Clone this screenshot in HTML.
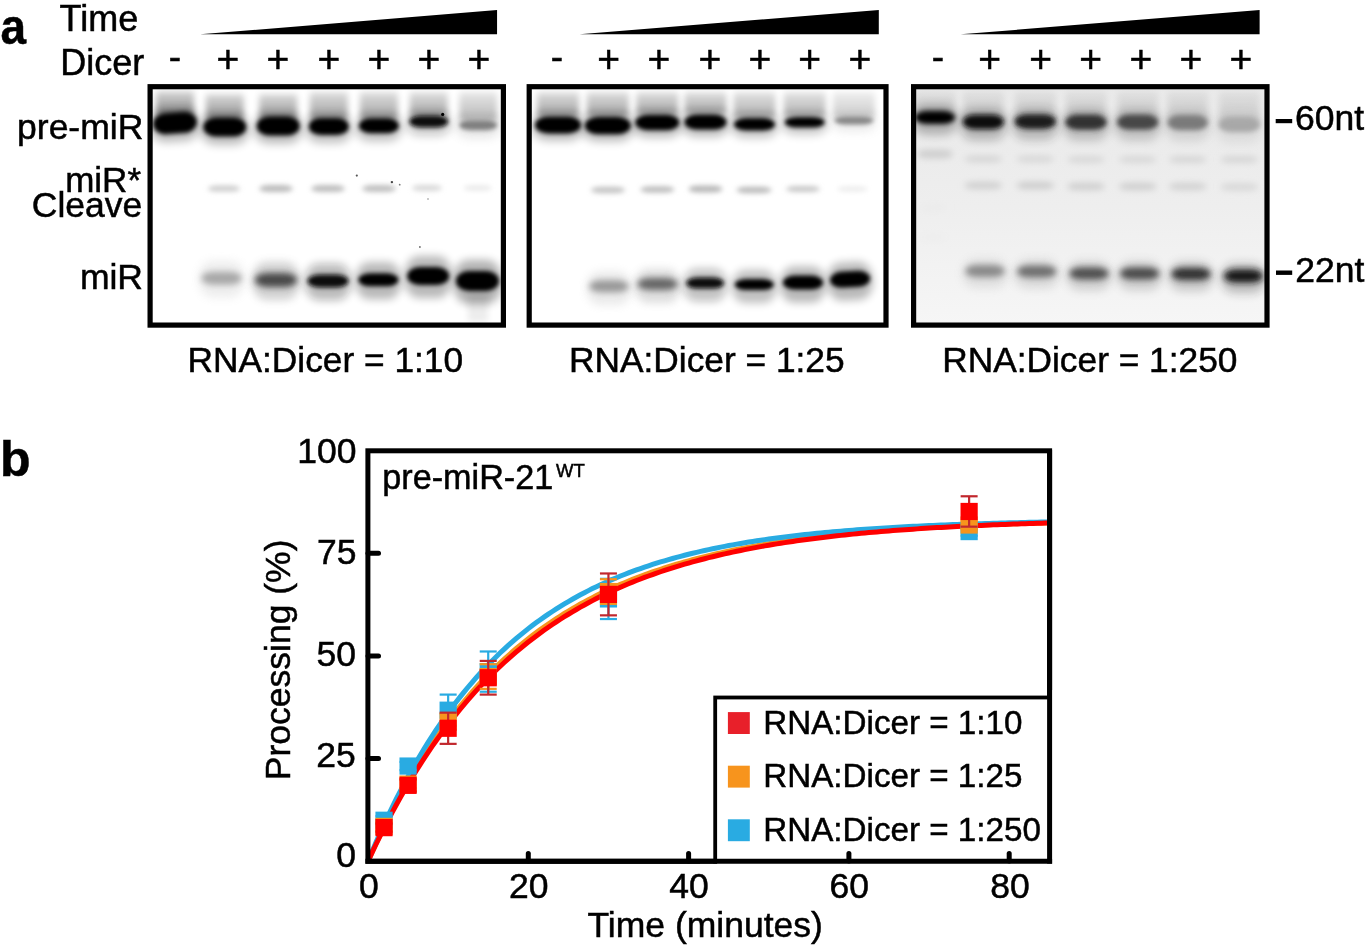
<!DOCTYPE html>
<html><head><meta charset="utf-8"><title>Dicer processing</title>
<style>html,body{margin:0;padding:0;background:#fff;width:1365px;height:945px;overflow:hidden}svg{display:block}</style></head>
<body>
<svg width="1365" height="945" viewBox="0 0 1365 945" font-family="'Liberation Sans', Arial, Helvetica, sans-serif" fill="#000">
<style>text{stroke:#000;stroke-width:0.5px}</style>
<defs>
<clipPath id="clip150"><rect x="150.1" y="86.7" width="353.29999999999995" height="238.40000000000003"/></clipPath>
<clipPath id="clip529"><rect x="529.2" y="86.7" width="356.79999999999995" height="238.40000000000003"/></clipPath>
<clipPath id="clip913"><rect x="913.6" y="86.7" width="353.4" height="238.40000000000003"/></clipPath>
<clipPath id="plotclip"><rect x="370" y="453" width="677" height="406"/></clipPath>
<filter id="b3_0" x="-50%" y="-100%" width="200%" height="300%"><feGaussianBlur stdDeviation="3"/></filter>
<filter id="b5_0" x="-50%" y="-100%" width="200%" height="300%"><feGaussianBlur stdDeviation="5"/></filter>
<filter id="b2_3" x="-50%" y="-100%" width="200%" height="300%"><feGaussianBlur stdDeviation="2.3"/></filter>
<filter id="b2_4" x="-50%" y="-100%" width="200%" height="300%"><feGaussianBlur stdDeviation="2.4"/></filter>
<filter id="b4_0" x="-50%" y="-100%" width="200%" height="300%"><feGaussianBlur stdDeviation="4"/></filter>
<filter id="b2_2" x="-50%" y="-100%" width="200%" height="300%"><feGaussianBlur stdDeviation="2.2"/></filter>
<filter id="b2_8" x="-50%" y="-100%" width="200%" height="300%"><feGaussianBlur stdDeviation="2.8"/></filter>
<filter id="b3_2" x="-50%" y="-100%" width="200%" height="300%"><feGaussianBlur stdDeviation="3.2"/></filter>
<filter id="b3_5" x="-50%" y="-100%" width="200%" height="300%"><feGaussianBlur stdDeviation="3.5"/></filter>
<linearGradient id="smear" x1="0" y1="0" x2="0" y2="1"><stop offset="0" stop-color="#000" stop-opacity="0.2"/><stop offset="0.35" stop-color="#000" stop-opacity="0.36"/><stop offset="0.7" stop-color="#000" stop-opacity="0.5"/><stop offset="1" stop-color="#000" stop-opacity="0.75"/></linearGradient>
<linearGradient id="gel3bg" x1="0" y1="0" x2="0" y2="1"><stop offset="0" stop-color="#e9e9e9"/><stop offset="0.5" stop-color="#eeeeee"/><stop offset="1" stop-color="#f6f6f6"/></linearGradient>
</defs>
<g clip-path="url(#clip150)">
<rect x="156.00" y="91" width="38" height="25" fill="url(#smear)" opacity="0.75" filter="url(#b3_0)"/>
<rect x="205.80" y="94" width="38" height="26" fill="url(#smear)" opacity="0.7" filter="url(#b3_0)"/>
<rect x="259.20" y="94" width="38" height="26" fill="url(#smear)" opacity="0.68" filter="url(#b3_0)"/>
<rect x="309.80" y="92" width="38" height="28" fill="url(#smear)" opacity="0.62" filter="url(#b3_0)"/>
<rect x="359.90" y="92" width="38" height="28" fill="url(#smear)" opacity="0.6" filter="url(#b3_0)"/>
<rect x="409.70" y="92" width="38" height="25" fill="url(#smear)" opacity="0.58" filter="url(#b3_0)"/>
<rect x="459.20" y="92" width="38" height="29" fill="url(#smear)" opacity="0.45" filter="url(#b3_0)"/>
<rect x="150.00" y="109.50" width="50.00" height="32.00" rx="15.00" ry="16.00" fill="#000" opacity="0.275" filter="url(#b5_0)" transform="rotate(-4 175 125.5)"/>
<rect x="153.00" y="112.50" width="44.00" height="21.00" rx="13.20" ry="10.50" fill="#000" opacity="1" filter="url(#b2_3)" transform="rotate(-4 175 123)"/>
<rect x="200.30" y="114.50" width="49.00" height="30.00" rx="14.70" ry="15.00" fill="#000" opacity="0.275" filter="url(#b5_0)"/>
<rect x="203.30" y="117.50" width="43.00" height="19.00" rx="12.90" ry="9.50" fill="#000" opacity="1" filter="url(#b2_3)"/>
<rect x="253.70" y="113.50" width="49.00" height="30.00" rx="14.70" ry="15.00" fill="#000" opacity="0.275" filter="url(#b5_0)"/>
<rect x="256.70" y="116.50" width="43.00" height="19.00" rx="12.90" ry="9.50" fill="#000" opacity="1" filter="url(#b2_3)"/>
<rect x="305.80" y="115.00" width="46.00" height="28.00" rx="13.80" ry="14.00" fill="#000" opacity="0.24750000000000003" filter="url(#b5_0)"/>
<rect x="308.80" y="118.00" width="40.00" height="17.00" rx="12.00" ry="8.50" fill="#000" opacity="1" filter="url(#b2_3)"/>
<rect x="355.90" y="115.30" width="46.00" height="26.00" rx="13.80" ry="13.00" fill="#000" opacity="0.24750000000000003" filter="url(#b5_0)"/>
<rect x="358.90" y="118.30" width="40.00" height="15.00" rx="12.00" ry="7.50" fill="#000" opacity="1" filter="url(#b2_3)"/>
<rect x="406.20" y="112.50" width="45.00" height="23.00" rx="13.50" ry="11.50" fill="#0a0a0a" opacity="0.22000000000000003" filter="url(#b5_0)"/>
<rect x="409.20" y="115.50" width="39.00" height="12.00" rx="11.70" ry="6.00" fill="#0a0a0a" opacity="1" filter="url(#b2_3)"/>
<rect x="456.20" y="117.20" width="44.00" height="21.00" rx="13.20" ry="10.50" fill="#808080" opacity="0.1925" filter="url(#b5_0)"/>
<rect x="459.20" y="120.20" width="38.00" height="10.00" rx="11.40" ry="5.00" fill="#808080" opacity="1" filter="url(#b2_3)"/>
<rect x="208.00" y="185.60" width="32.00" height="6.00" rx="9.60" ry="3.00" fill="#cdcdcd" opacity="1" filter="url(#b2_4)"/>
<rect x="259.00" y="185.10" width="34.00" height="7.00" rx="10.20" ry="3.50" fill="#bcbcbc" opacity="1" filter="url(#b2_4)"/>
<rect x="311.00" y="185.10" width="34.00" height="7.00" rx="10.20" ry="3.50" fill="#bebebe" opacity="1" filter="url(#b2_4)"/>
<rect x="362.00" y="185.10" width="34.00" height="7.00" rx="10.20" ry="3.50" fill="#c0c0c0" opacity="1" filter="url(#b2_4)"/>
<rect x="412.00" y="185.00" width="30.00" height="6.00" rx="9.00" ry="3.00" fill="#d8d8d8" opacity="1" filter="url(#b2_4)"/>
<rect x="463.70" y="185.50" width="28.00" height="5.00" rx="8.40" ry="2.50" fill="#e8e8e8" opacity="1" filter="url(#b2_4)"/>
<rect x="198.60" y="260.70" width="46.00" height="37.00" rx="13.80" ry="18.50" fill="#a8a8a8" opacity="0.1925" filter="url(#b4_0)"/>
<rect x="201.60" y="271.70" width="40.00" height="13.00" rx="12.00" ry="6.50" fill="#a8a8a8" opacity="1" filter="url(#b3_0)"/>
<rect x="252.00" y="262.00" width="48.00" height="38.00" rx="14.40" ry="19.00" fill="#4a4a4a" opacity="0.24750000000000003" filter="url(#b4_0)"/>
<rect x="255.00" y="273.00" width="42.00" height="14.00" rx="12.60" ry="7.00" fill="#4a4a4a" opacity="1" filter="url(#b3_0)"/>
<rect x="304.50" y="263.50" width="47.00" height="37.00" rx="14.10" ry="18.50" fill="#0c0c0c" opacity="0.275" filter="url(#b4_0)"/>
<rect x="307.50" y="274.50" width="41.00" height="13.00" rx="12.30" ry="6.50" fill="#0c0c0c" opacity="1" filter="url(#b2_2)"/>
<rect x="355.40" y="262.30" width="46.00" height="37.00" rx="13.80" ry="18.50" fill="#000" opacity="0.275" filter="url(#b4_0)"/>
<rect x="358.40" y="273.30" width="40.00" height="13.00" rx="12.00" ry="6.50" fill="#000" opacity="1" filter="url(#b2_2)"/>
<rect x="404.20" y="256.00" width="48.00" height="42.00" rx="14.40" ry="21.00" fill="#000" opacity="0.275" filter="url(#b4_0)"/>
<rect x="407.20" y="267.00" width="42.00" height="18.00" rx="12.60" ry="9.00" fill="#000" opacity="1" filter="url(#b2_2)"/>
<rect x="453.00" y="260.00" width="49.00" height="44.00" rx="14.70" ry="22.00" fill="#000" opacity="0.30250000000000005" filter="url(#b4_0)"/>
<rect x="456.00" y="271.00" width="43.00" height="20.00" rx="12.90" ry="10.00" fill="#000" opacity="1" filter="url(#b2_2)"/>
<circle cx="442.7" cy="114.4" r="1.6" fill="#000"/>
<circle cx="356.8" cy="175.6" r="1.1" fill="#555"/>
<circle cx="391.9" cy="182.1" r="1.2" fill="#444"/>
<circle cx="399.7" cy="184.7" r="0.9" fill="#777"/>
<circle cx="419.9" cy="247" r="1.0" fill="#777"/>
<circle cx="428" cy="199" r="0.8" fill="#888"/>
<rect x="468" y="292" width="20" height="30" fill="#000" opacity="0.07" filter="url(#b3_0)"/>
</g>
<rect x="150.1" y="86.7" width="353.29999999999995" height="238.40000000000003" fill="none" stroke="#000" stroke-width="5.2"/>
<g clip-path="url(#clip529)">
<rect x="537.00" y="92" width="42" height="25" fill="url(#smear)" opacity="0.6" filter="url(#b3_0)"/>
<rect x="586.80" y="92" width="42" height="25" fill="url(#smear)" opacity="0.6" filter="url(#b3_0)"/>
<rect x="636.30" y="92" width="42" height="23" fill="url(#smear)" opacity="0.58" filter="url(#b3_0)"/>
<rect x="684.50" y="92" width="42" height="22" fill="url(#smear)" opacity="0.56" filter="url(#b3_0)"/>
<rect x="733.50" y="92" width="42" height="26" fill="url(#smear)" opacity="0.52" filter="url(#b3_0)"/>
<rect x="783.70" y="92" width="42" height="25" fill="url(#smear)" opacity="0.5" filter="url(#b3_0)"/>
<rect x="832.90" y="92" width="42" height="26" fill="url(#smear)" opacity="0.32" filter="url(#b3_0)"/>
<rect x="532.00" y="113.50" width="52.00" height="27.00" rx="15.60" ry="13.50" fill="#000" opacity="0.275" filter="url(#b5_0)"/>
<rect x="535.00" y="116.50" width="46.00" height="17.00" rx="13.80" ry="8.50" fill="#000" opacity="1" filter="url(#b2_3)"/>
<rect x="581.80" y="113.85" width="52.00" height="27.50" rx="15.60" ry="13.75" fill="#000" opacity="0.275" filter="url(#b5_0)"/>
<rect x="584.80" y="116.85" width="46.00" height="17.50" rx="13.80" ry="8.75" fill="#000" opacity="1" filter="url(#b2_3)"/>
<rect x="632.30" y="111.85" width="50.00" height="25.50" rx="15.00" ry="12.75" fill="#000" opacity="0.275" filter="url(#b5_0)"/>
<rect x="635.30" y="114.85" width="44.00" height="15.50" rx="13.20" ry="7.75" fill="#000" opacity="1" filter="url(#b2_3)"/>
<rect x="681.50" y="111.50" width="48.00" height="25.00" rx="14.40" ry="12.50" fill="#000" opacity="0.275" filter="url(#b5_0)"/>
<rect x="684.50" y="114.50" width="42.00" height="15.00" rx="12.60" ry="7.50" fill="#000" opacity="1" filter="url(#b2_3)"/>
<rect x="731.00" y="115.05" width="47.00" height="22.50" rx="14.10" ry="11.25" fill="#000" opacity="0.24750000000000003" filter="url(#b5_0)"/>
<rect x="734.00" y="118.05" width="41.00" height="12.50" rx="12.30" ry="6.25" fill="#000" opacity="1" filter="url(#b2_3)"/>
<rect x="781.70" y="113.95" width="46.00" height="20.50" rx="13.80" ry="10.25" fill="#050505" opacity="0.22000000000000003" filter="url(#b5_0)"/>
<rect x="784.70" y="116.95" width="40.00" height="10.50" rx="12.00" ry="5.25" fill="#050505" opacity="1" filter="url(#b2_3)"/>
<rect x="831.40" y="113.50" width="45.00" height="18.00" rx="13.50" ry="9.00" fill="#888" opacity="0.165" filter="url(#b5_0)"/>
<rect x="834.40" y="116.50" width="39.00" height="8.00" rx="11.70" ry="4.00" fill="#888" opacity="1" filter="url(#b2_3)"/>
<rect x="591.00" y="186.75" width="34.00" height="6.50" rx="10.20" ry="3.25" fill="#c4c4c4" opacity="1" filter="url(#b2_4)"/>
<rect x="640.40" y="186.25" width="34.00" height="6.50" rx="10.20" ry="3.25" fill="#bebebe" opacity="1" filter="url(#b2_4)"/>
<rect x="688.50" y="185.50" width="34.00" height="7.00" rx="10.20" ry="3.50" fill="#b8b8b8" opacity="1" filter="url(#b2_4)"/>
<rect x="736.50" y="186.75" width="35.00" height="6.50" rx="10.50" ry="3.25" fill="#bcbcbc" opacity="1" filter="url(#b2_4)"/>
<rect x="786.00" y="186.00" width="34.00" height="6.00" rx="10.20" ry="3.00" fill="#c8c8c8" opacity="1" filter="url(#b2_4)"/>
<rect x="837.50" y="186.50" width="30.00" height="5.00" rx="9.00" ry="2.50" fill="#ebebeb" opacity="1" filter="url(#b2_4)"/>
<rect x="586.50" y="271.30" width="45.00" height="34.00" rx="13.50" ry="17.00" fill="#999" opacity="0.1925" filter="url(#b4_0)"/>
<rect x="589.50" y="280.30" width="39.00" height="12.00" rx="11.70" ry="6.00" fill="#999" opacity="1" filter="url(#b3_0)"/>
<rect x="634.60" y="269.00" width="46.00" height="34.00" rx="13.80" ry="17.00" fill="#666" opacity="0.22000000000000003" filter="url(#b4_0)"/>
<rect x="637.60" y="278.00" width="40.00" height="12.00" rx="12.00" ry="6.00" fill="#666" opacity="1" filter="url(#b3_0)"/>
<rect x="683.10" y="268.60" width="44.00" height="33.00" rx="13.20" ry="16.50" fill="#080808" opacity="0.24750000000000003" filter="url(#b4_0)"/>
<rect x="686.10" y="277.60" width="38.00" height="11.00" rx="11.40" ry="5.50" fill="#080808" opacity="1" filter="url(#b2_2)"/>
<rect x="731.80" y="270.10" width="45.00" height="33.00" rx="13.50" ry="16.50" fill="#000" opacity="0.24750000000000003" filter="url(#b4_0)"/>
<rect x="734.80" y="279.10" width="39.00" height="11.00" rx="11.70" ry="5.50" fill="#000" opacity="1" filter="url(#b2_2)"/>
<rect x="780.00" y="266.60" width="46.00" height="36.00" rx="13.80" ry="18.00" fill="#000" opacity="0.275" filter="url(#b4_0)"/>
<rect x="783.00" y="275.60" width="40.00" height="14.00" rx="12.00" ry="7.00" fill="#000" opacity="1" filter="url(#b2_2)"/>
<rect x="827.10" y="262.30" width="46.00" height="38.00" rx="13.80" ry="19.00" fill="#000" opacity="0.275" filter="url(#b4_0)" transform="rotate(-3 850.1 281.3)"/>
<rect x="830.10" y="271.30" width="40.00" height="16.00" rx="12.00" ry="8.00" fill="#000" opacity="1" filter="url(#b2_2)" transform="rotate(-3 850.1 279.3)"/>
</g>
<rect x="529.2" y="86.7" width="356.79999999999995" height="238.40000000000003" fill="none" stroke="#000" stroke-width="5.2"/>
<g clip-path="url(#clip913)">
<rect x="913.6" y="86.7" width="353.4" height="238.40000000000003" fill="url(#gel3bg)"/>
<rect x="915.00" y="92" width="40" height="25.5" fill="url(#smear)" opacity="0.22" filter="url(#b3_0)"/>
<rect x="963.30" y="92" width="40" height="30" fill="url(#smear)" opacity="0.22" filter="url(#b3_0)"/>
<rect x="1015.30" y="92" width="40" height="29.700000000000003" fill="url(#smear)" opacity="0.22" filter="url(#b3_0)"/>
<rect x="1066.00" y="92" width="40" height="30.299999999999997" fill="url(#smear)" opacity="0.22" filter="url(#b3_0)"/>
<rect x="1117.70" y="92" width="40" height="30.299999999999997" fill="url(#smear)" opacity="0.22" filter="url(#b3_0)"/>
<rect x="1167.70" y="92" width="40" height="30.700000000000003" fill="url(#smear)" opacity="0.22" filter="url(#b3_0)"/>
<rect x="1219.30" y="92" width="40" height="32.7" fill="url(#smear)" opacity="0.22" filter="url(#b3_0)"/>
<rect x="912.00" y="105.00" width="46.00" height="30.00" rx="13.80" ry="15.00" fill="#000" opacity="0.24750000000000003" filter="url(#b5_0)"/>
<rect x="915.00" y="111.00" width="40.00" height="13.00" rx="12.00" ry="6.50" fill="#000" opacity="1" filter="url(#b2_8)"/>
<rect x="959.80" y="108.75" width="47.00" height="31.50" rx="14.10" ry="15.75" fill="#111" opacity="0.24750000000000003" filter="url(#b5_0)"/>
<rect x="962.80" y="114.75" width="41.00" height="14.50" rx="12.30" ry="7.25" fill="#111" opacity="1" filter="url(#b2_8)"/>
<rect x="1011.80" y="108.45" width="47.00" height="31.50" rx="14.10" ry="15.75" fill="#1c1c1c" opacity="0.24750000000000003" filter="url(#b5_0)"/>
<rect x="1014.80" y="114.45" width="41.00" height="14.50" rx="12.30" ry="7.25" fill="#1c1c1c" opacity="1" filter="url(#b2_8)"/>
<rect x="1062.50" y="108.80" width="47.00" height="32.00" rx="14.10" ry="16.00" fill="#333" opacity="0.24750000000000003" filter="url(#b5_0)"/>
<rect x="1065.50" y="114.80" width="41.00" height="15.00" rx="12.30" ry="7.50" fill="#333" opacity="1" filter="url(#b2_8)"/>
<rect x="1114.20" y="108.80" width="47.00" height="32.00" rx="14.10" ry="16.00" fill="#474747" opacity="0.24750000000000003" filter="url(#b5_0)"/>
<rect x="1117.20" y="114.80" width="41.00" height="15.00" rx="12.30" ry="7.50" fill="#474747" opacity="1" filter="url(#b2_8)"/>
<rect x="1164.70" y="109.20" width="46.00" height="32.00" rx="13.80" ry="16.00" fill="#7a7a7a" opacity="0.22000000000000003" filter="url(#b5_0)"/>
<rect x="1167.70" y="115.20" width="40.00" height="15.00" rx="12.00" ry="7.50" fill="#7a7a7a" opacity="1" filter="url(#b2_8)"/>
<rect x="1215.80" y="111.20" width="47.00" height="32.00" rx="14.10" ry="16.00" fill="#a8a8a8" opacity="0.22000000000000003" filter="url(#b5_0)"/>
<rect x="1218.80" y="117.20" width="41.00" height="15.00" rx="12.30" ry="7.50" fill="#a8a8a8" opacity="1" filter="url(#b2_8)"/>
<rect x="917.00" y="149.50" width="36.00" height="9.00" rx="10.80" ry="4.50" fill="#cfcfcf" opacity="1" filter="url(#b3_2)"/>
<rect x="964.30" y="155.50" width="38.00" height="7.00" rx="11.40" ry="3.50" fill="#d6d6d6" opacity="1" filter="url(#b3_2)"/>
<rect x="1016.30" y="155.50" width="38.00" height="7.00" rx="11.40" ry="3.50" fill="#d8d8d8" opacity="1" filter="url(#b3_2)"/>
<rect x="1067.00" y="156.00" width="38.00" height="7.00" rx="11.40" ry="3.50" fill="#d8d8d8" opacity="1" filter="url(#b3_2)"/>
<rect x="1118.70" y="156.00" width="38.00" height="7.00" rx="11.40" ry="3.50" fill="#d8d8d8" opacity="1" filter="url(#b3_2)"/>
<rect x="1168.70" y="156.00" width="38.00" height="7.00" rx="11.40" ry="3.50" fill="#d6d6d6" opacity="1" filter="url(#b3_2)"/>
<rect x="1220.30" y="156.00" width="38.00" height="7.00" rx="11.40" ry="3.50" fill="#d6d6d6" opacity="1" filter="url(#b3_2)"/>
<rect x="964.30" y="181.75" width="38.00" height="7.50" rx="11.40" ry="3.75" fill="#d0d0d0" opacity="1" filter="url(#b3_2)"/>
<rect x="1016.30" y="181.75" width="38.00" height="7.50" rx="11.40" ry="3.75" fill="#cdcdcd" opacity="1" filter="url(#b3_2)"/>
<rect x="1067.00" y="182.75" width="38.00" height="7.50" rx="11.40" ry="3.75" fill="#cfcfcf" opacity="1" filter="url(#b3_2)"/>
<rect x="1118.70" y="182.75" width="38.00" height="7.50" rx="11.40" ry="3.75" fill="#cfcfcf" opacity="1" filter="url(#b3_2)"/>
<rect x="1168.70" y="182.75" width="38.00" height="7.50" rx="11.40" ry="3.75" fill="#d2d2d2" opacity="1" filter="url(#b3_2)"/>
<rect x="1220.30" y="183.25" width="38.00" height="7.50" rx="11.40" ry="3.75" fill="#d8d8d8" opacity="1" filter="url(#b3_2)"/>
<rect x="919.00" y="204.00" width="28.00" height="7.00" rx="8.40" ry="3.50" fill="#ebebeb" opacity="1" filter="url(#b3_5)"/>
<rect x="919.00" y="233.50" width="28.00" height="7.00" rx="8.40" ry="3.50" fill="#ededed" opacity="1" filter="url(#b3_5)"/>
<rect x="962.50" y="259.00" width="45.00" height="29.00" rx="13.50" ry="14.50" fill="#8a8a8a" opacity="0.1925" filter="url(#b5_0)"/>
<rect x="965.50" y="265.00" width="39.00" height="12.00" rx="11.70" ry="6.00" fill="#8a8a8a" opacity="1" filter="url(#b3_0)"/>
<rect x="1014.20" y="259.50" width="45.00" height="29.00" rx="13.50" ry="14.50" fill="#707070" opacity="0.1925" filter="url(#b5_0)"/>
<rect x="1017.20" y="265.50" width="39.00" height="12.00" rx="11.70" ry="6.00" fill="#707070" opacity="1" filter="url(#b3_0)"/>
<rect x="1066.50" y="261.50" width="45.00" height="29.00" rx="13.50" ry="14.50" fill="#505050" opacity="0.22000000000000003" filter="url(#b5_0)"/>
<rect x="1069.50" y="267.50" width="39.00" height="12.00" rx="11.70" ry="6.00" fill="#505050" opacity="1" filter="url(#b3_0)"/>
<rect x="1117.10" y="261.50" width="45.00" height="29.00" rx="13.50" ry="14.50" fill="#4c4c4c" opacity="0.22000000000000003" filter="url(#b5_0)"/>
<rect x="1120.10" y="267.50" width="39.00" height="12.00" rx="11.70" ry="6.00" fill="#4c4c4c" opacity="1" filter="url(#b3_0)"/>
<rect x="1168.50" y="261.75" width="45.00" height="29.50" rx="13.50" ry="14.75" fill="#333" opacity="0.22000000000000003" filter="url(#b5_0)"/>
<rect x="1171.50" y="267.75" width="39.00" height="12.50" rx="11.70" ry="6.25" fill="#333" opacity="1" filter="url(#b3_0)"/>
<rect x="1221.00" y="263.50" width="45.00" height="30.00" rx="13.50" ry="15.00" fill="#151515" opacity="0.24750000000000003" filter="url(#b5_0)"/>
<rect x="1224.00" y="269.50" width="39.00" height="13.00" rx="11.70" ry="6.50" fill="#151515" opacity="1" filter="url(#b3_0)"/>
</g>
<rect x="913.6" y="86.7" width="353.4" height="238.40000000000003" fill="none" stroke="#000" stroke-width="5.2"/>
<polygon points="200.1,34.3 497.05,10 497.05,34.3" fill="#000"/>
<polygon points="579.6,34.3 878.8,10 878.8,34.3" fill="#000"/>
<polygon points="960.7,34.3 1259.6,10 1259.6,34.3" fill="#000"/>
<text x="0.6" y="43.5" font-size="50" font-weight="bold" text-anchor="start" transform="translate(0.6 0) scale(0.92 1) translate(-0.6 0)">a</text>
<text x="59.5" y="31" font-size="36" font-weight="normal" text-anchor="start" >Time</text>
<text x="60.3" y="74.7" font-size="36" font-weight="normal" text-anchor="start" >Dicer</text>
<text x="175" y="68.7" font-size="37" font-weight="normal" text-anchor="middle" >-</text>
<text x="227.8" y="72.4" font-size="39" font-weight="normal" text-anchor="middle" >+</text>
<text x="278" y="72.4" font-size="39" font-weight="normal" text-anchor="middle" >+</text>
<text x="328.9" y="72.4" font-size="39" font-weight="normal" text-anchor="middle" >+</text>
<text x="379" y="72.4" font-size="39" font-weight="normal" text-anchor="middle" >+</text>
<text x="428.9" y="72.4" font-size="39" font-weight="normal" text-anchor="middle" >+</text>
<text x="479" y="72.4" font-size="39" font-weight="normal" text-anchor="middle" >+</text>
<text x="557" y="68.7" font-size="37" font-weight="normal" text-anchor="middle" >-</text>
<text x="608.6" y="72.4" font-size="39" font-weight="normal" text-anchor="middle" >+</text>
<text x="658.8" y="72.4" font-size="39" font-weight="normal" text-anchor="middle" >+</text>
<text x="710" y="72.4" font-size="39" font-weight="normal" text-anchor="middle" >+</text>
<text x="760" y="72.4" font-size="39" font-weight="normal" text-anchor="middle" >+</text>
<text x="809.7" y="72.4" font-size="39" font-weight="normal" text-anchor="middle" >+</text>
<text x="859.8" y="72.4" font-size="39" font-weight="normal" text-anchor="middle" >+</text>
<text x="938" y="68.7" font-size="37" font-weight="normal" text-anchor="middle" >-</text>
<text x="989.7" y="72.4" font-size="39" font-weight="normal" text-anchor="middle" >+</text>
<text x="1040.6" y="72.4" font-size="39" font-weight="normal" text-anchor="middle" >+</text>
<text x="1090.7" y="72.4" font-size="39" font-weight="normal" text-anchor="middle" >+</text>
<text x="1140.9" y="72.4" font-size="39" font-weight="normal" text-anchor="middle" >+</text>
<text x="1191" y="72.4" font-size="39" font-weight="normal" text-anchor="middle" >+</text>
<text x="1241" y="72.4" font-size="39" font-weight="normal" text-anchor="middle" >+</text>
<text x="143.3" y="138.8" font-size="35.5" font-weight="normal" text-anchor="end" >pre-miR</text>
<text x="141" y="191.5" font-size="35" font-weight="normal" text-anchor="end" >miR*</text>
<text x="142.3" y="216.7" font-size="35.5" font-weight="normal" text-anchor="end" >Cleave</text>
<text x="143" y="288.9" font-size="35.5" font-weight="normal" text-anchor="end" >miR</text>
<text x="187.5" y="372.2" font-size="35.3" font-weight="normal" text-anchor="start" >RNA:Dicer = 1:10</text>
<text x="569" y="372.2" font-size="35.3" font-weight="normal" text-anchor="start" >RNA:Dicer = 1:25</text>
<text x="942.2" y="372.2" font-size="35.3" font-weight="normal" text-anchor="start" >RNA:Dicer = 1:250</text>
<rect x="1275.7" y="119" width="16.5" height="4.2" fill="#000"/>
<rect x="1276" y="270.5" width="16.2" height="4.4" fill="#000"/>
<text x="1295" y="129.5" font-size="35.5" font-weight="normal" text-anchor="start" >60nt</text>
<text x="1295.2" y="282" font-size="35.5" font-weight="normal" text-anchor="start" >22nt</text>
<text x="0" y="475.5" font-size="50" font-weight="bold" text-anchor="start" >b</text>
<g clip-path="url(#plotclip)">
<polyline points="368.00,861.30 372.01,852.43 376.01,843.79 380.02,835.37 384.03,827.17 388.04,819.18 392.05,811.40 396.05,803.82 400.06,796.44 404.07,789.24 408.07,782.24 412.08,775.42 416.09,768.77 420.10,762.29 424.11,755.99 428.11,749.84 432.12,743.86 436.13,738.03 440.13,732.35 444.14,726.82 448.15,721.43 452.16,716.18 456.17,711.07 460.17,706.09 464.18,701.24 468.19,696.52 472.19,691.91 476.20,687.43 480.21,683.06 484.22,678.81 488.23,674.66 492.23,670.63 496.24,666.69 500.25,662.86 504.25,659.13 508.26,655.50 512.27,651.96 516.28,648.51 520.29,645.15 524.29,641.88 528.30,638.69 532.31,635.59 536.32,632.56 540.32,629.62 544.33,626.75 548.34,623.95 552.35,621.23 556.35,618.58 560.36,615.99 564.37,613.48 568.38,611.03 572.38,608.64 576.39,606.31 580.40,604.05 584.40,601.84 588.41,599.69 592.42,597.60 596.43,595.56 600.43,593.57 604.44,591.63 608.45,589.75 612.46,587.91 616.47,586.12 620.47,584.38 624.48,582.68 628.49,581.03 632.50,579.42 636.50,577.85 640.51,576.32 644.52,574.83 648.53,573.38 652.53,571.97 656.54,570.59 660.55,569.25 664.56,567.95 668.56,566.67 672.57,565.44 676.58,564.23 680.59,563.05 684.59,561.91 688.60,560.79 692.61,559.71 696.62,558.65 700.62,557.62 704.63,556.61 708.64,555.64 712.64,554.68 716.65,553.75 720.66,552.85 724.67,551.97 728.67,551.11 732.68,550.28 736.69,549.46 740.70,548.67 744.71,547.90 748.71,547.15 752.72,546.41 756.73,545.70 760.74,545.00 764.74,544.33 768.75,543.67 772.76,543.02 776.77,542.40 780.77,541.79 784.78,541.19 788.79,540.61 792.80,540.05 796.80,539.50 800.81,538.97 804.82,538.45 808.83,537.94 812.83,537.44 816.84,536.96 820.85,536.49 824.86,536.04 828.86,535.59 832.87,535.16 836.88,534.74 840.88,534.32 844.89,533.92 848.90,533.53 852.91,533.15 856.91,532.78 860.92,532.42 864.93,532.07 868.94,531.73 872.95,531.40 876.95,531.07 880.96,530.75 884.97,530.45 888.98,530.15 892.98,529.85 896.99,529.57 901.00,529.29 905.00,529.02 909.01,528.76 913.02,528.50 917.03,528.25 921.04,528.01 925.04,527.77 929.05,527.54 933.06,527.32 937.07,527.10 941.07,526.88 945.08,526.68 949.09,526.47 953.10,526.28 957.10,526.08 961.11,525.90 965.12,525.71 969.12,525.54 973.13,525.36 977.14,525.19 981.15,525.03 985.16,524.87 989.16,524.71 993.17,524.56 997.18,524.42 1001.19,524.27 1005.19,524.13 1009.20,523.99 1013.21,523.86 1017.22,523.73 1021.22,523.61 1025.23,523.48 1029.24,523.36 1033.24,523.25 1037.25,523.13 1041.26,523.02 1045.27,522.91 1049.28,522.81" fill="none" stroke="#f7941d" stroke-width="5" stroke-linejoin="round"/>
<polyline points="368.00,861.30 372.01,851.69 376.01,842.35 380.02,833.27 384.03,824.45 388.04,815.87 392.05,807.54 396.05,799.44 400.06,791.57 404.07,783.92 408.07,776.48 412.08,769.25 416.09,762.23 420.10,755.40 424.11,748.77 428.11,742.32 432.12,736.05 436.13,729.96 440.13,724.04 444.14,718.29 448.15,712.70 452.16,707.26 456.17,701.98 460.17,696.85 464.18,691.86 468.19,687.01 472.19,682.29 476.20,677.71 480.21,673.26 484.22,668.93 488.23,664.73 492.23,660.64 496.24,656.67 500.25,652.81 504.25,649.06 508.26,645.41 512.27,641.87 516.28,638.42 520.29,635.07 524.29,631.82 528.30,628.66 532.31,625.58 536.32,622.60 540.32,619.69 544.33,616.87 548.34,614.13 552.35,611.46 556.35,608.87 560.36,606.36 564.37,603.91 568.38,601.53 572.38,599.22 576.39,596.97 580.40,594.79 584.40,592.67 588.41,590.61 592.42,588.60 596.43,586.65 600.43,584.76 604.44,582.92 608.45,581.13 612.46,579.39 616.47,577.70 620.47,576.06 624.48,574.47 628.49,572.92 632.50,571.41 636.50,569.94 640.51,568.52 644.52,567.14 648.53,565.79 652.53,564.48 656.54,563.21 660.55,561.98 664.56,560.78 668.56,559.61 672.57,558.48 676.58,557.38 680.59,556.31 684.59,555.27 688.60,554.25 692.61,553.27 696.62,552.32 700.62,551.39 704.63,550.49 708.64,549.61 712.64,548.76 716.65,547.93 720.66,547.12 724.67,546.34 728.67,545.58 732.68,544.84 736.69,544.12 740.70,543.42 744.71,542.74 748.71,542.08 752.72,541.44 756.73,540.82 760.74,540.22 764.74,539.63 768.75,539.05 772.76,538.50 776.77,537.96 780.77,537.43 784.78,536.92 788.79,536.43 792.80,535.94 796.80,535.48 800.81,535.02 804.82,534.58 808.83,534.15 812.83,533.73 816.84,533.32 820.85,532.93 824.86,532.55 828.86,532.17 832.87,531.81 836.88,531.46 840.88,531.12 844.89,530.78 848.90,530.46 852.91,530.14 856.91,529.84 860.92,529.54 864.93,529.25 868.94,528.97 872.95,528.70 876.95,528.44 880.96,528.18 884.97,527.93 888.98,527.68 892.98,527.45 896.99,527.22 901.00,526.99 905.00,526.78 909.01,526.57 913.02,526.36 917.03,526.16 921.04,525.97 925.04,525.78 929.05,525.60 933.06,525.42 937.07,525.25 941.07,525.08 945.08,524.92 949.09,524.76 953.10,524.60 957.10,524.45 961.11,524.31 965.12,524.17 969.12,524.03 973.13,523.89 977.14,523.76 981.15,523.64 985.16,523.52 989.16,523.40 993.17,523.28 997.18,523.17 1001.19,523.06 1005.19,522.95 1009.20,522.85 1013.21,522.75 1017.22,522.65 1021.22,522.56 1025.23,522.46 1029.24,522.37 1033.24,522.29 1037.25,522.20 1041.26,522.12 1045.27,522.04 1049.28,521.96" fill="none" stroke="#29abe2" stroke-width="5" stroke-linejoin="round"/>
<polyline points="368.00,861.30 372.01,852.67 376.01,844.25 380.02,836.05 384.03,828.05 388.04,820.26 392.05,812.66 396.05,805.25 400.06,798.03 404.07,790.99 408.07,784.13 412.08,777.44 416.09,770.92 420.10,764.56 424.11,758.37 428.11,752.33 432.12,746.44 436.13,740.70 440.13,735.10 444.14,729.65 448.15,724.33 452.16,719.15 456.17,714.09 460.17,709.17 464.18,704.37 468.19,699.68 472.19,695.12 476.20,690.67 480.21,686.34 484.22,682.11 488.23,677.99 492.23,673.97 496.24,670.06 500.25,666.24 504.25,662.52 508.26,658.89 512.27,655.36 516.28,651.91 520.29,648.55 524.29,645.27 528.30,642.08 532.31,638.97 536.32,635.93 540.32,632.97 544.33,630.09 548.34,627.28 552.35,624.54 556.35,621.87 560.36,619.26 564.37,616.73 568.38,614.25 572.38,611.84 576.39,609.49 580.40,607.20 584.40,604.96 588.41,602.78 592.42,600.66 596.43,598.59 600.43,596.57 604.44,594.61 608.45,592.69 612.46,590.82 616.47,589.00 620.47,587.22 624.48,585.49 628.49,583.80 632.50,582.16 636.50,580.55 640.51,578.99 644.52,577.46 648.53,575.98 652.53,574.53 656.54,573.12 660.55,571.74 664.56,570.40 668.56,569.09 672.57,567.82 676.58,566.57 680.59,565.36 684.59,564.18 688.60,563.03 692.61,561.91 696.62,560.81 700.62,559.75 704.63,558.71 708.64,557.69 712.64,556.70 716.65,555.74 720.66,554.80 724.67,553.89 728.67,553.00 732.68,552.13 736.69,551.28 740.70,550.45 744.71,549.65 748.71,548.86 752.72,548.09 756.73,547.35 760.74,546.62 764.74,545.91 768.75,545.22 772.76,544.55 776.77,543.89 780.77,543.25 784.78,542.62 788.79,542.01 792.80,541.42 796.80,540.84 800.81,540.28 804.82,539.73 808.83,539.19 812.83,538.67 816.84,538.16 820.85,537.67 824.86,537.18 828.86,536.71 832.87,536.25 836.88,535.80 840.88,535.37 844.89,534.94 848.90,534.52 852.91,534.12 856.91,533.73 860.92,533.34 864.93,532.97 868.94,532.60 872.95,532.24 876.95,531.90 880.96,531.56 884.97,531.23 888.98,530.91 892.98,530.59 896.99,530.29 901.00,529.99 905.00,529.70 909.01,529.41 913.02,529.14 917.03,528.87 921.04,528.61 925.04,528.35 929.05,528.10 933.06,527.86 937.07,527.62 941.07,527.39 945.08,527.17 949.09,526.95 953.10,526.73 957.10,526.52 961.11,526.32 965.12,526.12 969.12,525.93 973.13,525.74 977.14,525.56 981.15,525.38 985.16,525.20 989.16,525.03 993.17,524.87 997.18,524.71 1001.19,524.55 1005.19,524.40 1009.20,524.25 1013.21,524.10 1017.22,523.96 1021.22,523.82 1025.23,523.68 1029.24,523.55 1033.24,523.42 1037.25,523.30 1041.26,523.18 1045.27,523.06 1049.28,522.94" fill="none" stroke="#ff0000" stroke-width="5" stroke-linejoin="round"/>
<line x1="384.03" y1="816.134" x2="384.03" y2="824.346" stroke="#29abe2" stroke-width="2.2"/>
<line x1="375.53" y1="816.134" x2="392.53" y2="816.134" stroke="#29abe2" stroke-width="2.2"/>
<line x1="375.53" y1="824.346" x2="392.53" y2="824.346" stroke="#29abe2" stroke-width="2.2"/>
<rect x="375.42999999999995" y="811.64" width="17.2" height="17.2" fill="#29abe2"/>
<line x1="408.075" y1="761.9348" x2="408.075" y2="770.1468" stroke="#29abe2" stroke-width="2.2"/>
<line x1="399.575" y1="761.9348" x2="416.575" y2="761.9348" stroke="#29abe2" stroke-width="2.2"/>
<line x1="399.575" y1="770.1468" x2="416.575" y2="770.1468" stroke="#29abe2" stroke-width="2.2"/>
<rect x="399.47499999999997" y="757.4408" width="17.2" height="17.2" fill="#29abe2"/>
<line x1="448.15" y1="694.5964" x2="448.15" y2="725.8019999999999" stroke="#29abe2" stroke-width="2.2"/>
<line x1="439.65" y1="694.5964" x2="456.65" y2="694.5964" stroke="#29abe2" stroke-width="2.2"/>
<line x1="439.65" y1="725.8019999999999" x2="456.65" y2="725.8019999999999" stroke="#29abe2" stroke-width="2.2"/>
<rect x="439.54999999999995" y="701.5992" width="17.2" height="17.2" fill="#29abe2"/>
<line x1="488.225" y1="651.4834" x2="488.225" y2="691.7221999999999" stroke="#29abe2" stroke-width="2.2"/>
<line x1="479.725" y1="651.4834" x2="496.725" y2="651.4834" stroke="#29abe2" stroke-width="2.2"/>
<line x1="479.725" y1="691.7221999999999" x2="496.725" y2="691.7221999999999" stroke="#29abe2" stroke-width="2.2"/>
<rect x="479.625" y="663.0027999999999" width="17.2" height="17.2" fill="#29abe2"/>
<line x1="608.45" y1="578.8072" x2="608.45" y2="619.0459999999999" stroke="#29abe2" stroke-width="2.2"/>
<line x1="599.95" y1="578.8072" x2="616.95" y2="578.8072" stroke="#29abe2" stroke-width="2.2"/>
<line x1="599.95" y1="619.0459999999999" x2="616.95" y2="619.0459999999999" stroke="#29abe2" stroke-width="2.2"/>
<rect x="599.85" y="590.3266" width="17.2" height="17.2" fill="#29abe2"/>
<line x1="969.125" y1="527.4821999999999" x2="969.125" y2="535.6941999999999" stroke="#29abe2" stroke-width="2.2"/>
<line x1="960.625" y1="527.4821999999999" x2="977.625" y2="527.4821999999999" stroke="#29abe2" stroke-width="2.2"/>
<line x1="960.625" y1="535.6941999999999" x2="977.625" y2="535.6941999999999" stroke="#29abe2" stroke-width="2.2"/>
<rect x="960.525" y="522.9881999999999" width="17.2" height="17.2" fill="#29abe2"/>
<line x1="384.03" y1="822.293" x2="384.03" y2="830.505" stroke="#f7941d" stroke-width="2.2"/>
<line x1="375.53" y1="822.293" x2="392.53" y2="822.293" stroke="#f7941d" stroke-width="2.2"/>
<line x1="375.53" y1="830.505" x2="392.53" y2="830.505" stroke="#f7941d" stroke-width="2.2"/>
<rect x="375.42999999999995" y="817.799" width="17.2" height="17.2" fill="#f7941d"/>
<line x1="408.075" y1="780.0011999999999" x2="408.075" y2="788.2131999999999" stroke="#f7941d" stroke-width="2.2"/>
<line x1="399.575" y1="780.0011999999999" x2="416.575" y2="780.0011999999999" stroke="#f7941d" stroke-width="2.2"/>
<line x1="399.575" y1="788.2131999999999" x2="416.575" y2="788.2131999999999" stroke="#f7941d" stroke-width="2.2"/>
<rect x="399.47499999999997" y="775.5071999999999" width="17.2" height="17.2" fill="#f7941d"/>
<line x1="448.15" y1="713.4839999999999" x2="448.15" y2="729.9079999999999" stroke="#f7941d" stroke-width="2.2"/>
<line x1="439.65" y1="713.4839999999999" x2="456.65" y2="713.4839999999999" stroke="#f7941d" stroke-width="2.2"/>
<line x1="439.65" y1="729.9079999999999" x2="456.65" y2="729.9079999999999" stroke="#f7941d" stroke-width="2.2"/>
<rect x="439.54999999999995" y="713.0959999999999" width="17.2" height="17.2" fill="#f7941d"/>
<line x1="488.225" y1="664.212" x2="488.225" y2="688.848" stroke="#f7941d" stroke-width="2.2"/>
<line x1="479.725" y1="664.212" x2="496.725" y2="664.212" stroke="#f7941d" stroke-width="2.2"/>
<line x1="479.725" y1="688.848" x2="496.725" y2="688.848" stroke="#f7941d" stroke-width="2.2"/>
<rect x="479.625" y="667.93" width="17.2" height="17.2" fill="#f7941d"/>
<line x1="608.45" y1="579.2177999999999" x2="608.45" y2="603.8538" stroke="#f7941d" stroke-width="2.2"/>
<line x1="599.95" y1="579.2177999999999" x2="616.95" y2="579.2177999999999" stroke="#f7941d" stroke-width="2.2"/>
<line x1="599.95" y1="603.8538" x2="616.95" y2="603.8538" stroke="#f7941d" stroke-width="2.2"/>
<rect x="599.85" y="582.9357999999999" width="17.2" height="17.2" fill="#f7941d"/>
<line x1="969.125" y1="520.9125999999999" x2="969.125" y2="529.1245999999999" stroke="#f7941d" stroke-width="2.2"/>
<line x1="960.625" y1="520.9125999999999" x2="977.625" y2="520.9125999999999" stroke="#f7941d" stroke-width="2.2"/>
<line x1="960.625" y1="529.1245999999999" x2="977.625" y2="529.1245999999999" stroke="#f7941d" stroke-width="2.2"/>
<rect x="960.525" y="516.4185999999999" width="17.2" height="17.2" fill="#f7941d"/>
<line x1="384.03" y1="823.5247999999999" x2="384.03" y2="831.7367999999999" stroke="#c1272d" stroke-width="2.2"/>
<line x1="375.53" y1="823.5247999999999" x2="392.53" y2="823.5247999999999" stroke="#c1272d" stroke-width="2.2"/>
<line x1="375.53" y1="831.7367999999999" x2="392.53" y2="831.7367999999999" stroke="#c1272d" stroke-width="2.2"/>
<rect x="375.42999999999995" y="819.0307999999999" width="17.2" height="17.2" fill="#ff0000"/>
<line x1="408.075" y1="779.18" x2="408.075" y2="791.4979999999999" stroke="#c1272d" stroke-width="2.2"/>
<line x1="399.575" y1="779.18" x2="416.575" y2="779.18" stroke="#c1272d" stroke-width="2.2"/>
<line x1="399.575" y1="791.4979999999999" x2="416.575" y2="791.4979999999999" stroke="#c1272d" stroke-width="2.2"/>
<rect x="399.47499999999997" y="776.7389999999999" width="17.2" height="17.2" fill="#ff0000"/>
<line x1="448.15" y1="712.6628" x2="448.15" y2="743.8684" stroke="#c1272d" stroke-width="2.2"/>
<line x1="439.65" y1="712.6628" x2="456.65" y2="712.6628" stroke="#c1272d" stroke-width="2.2"/>
<line x1="439.65" y1="743.8684" x2="456.65" y2="743.8684" stroke="#c1272d" stroke-width="2.2"/>
<rect x="439.54999999999995" y="719.6655999999999" width="17.2" height="17.2" fill="#ff0000"/>
<line x1="488.225" y1="660.9272" x2="488.225" y2="694.5963999999999" stroke="#c1272d" stroke-width="2.2"/>
<line x1="479.725" y1="660.9272" x2="496.725" y2="660.9272" stroke="#c1272d" stroke-width="2.2"/>
<line x1="479.725" y1="694.5963999999999" x2="496.725" y2="694.5963999999999" stroke="#c1272d" stroke-width="2.2"/>
<rect x="479.625" y="669.1618" width="17.2" height="17.2" fill="#ff0000"/>
<line x1="608.45" y1="573.4694" x2="608.45" y2="615.3506" stroke="#c1272d" stroke-width="2.2"/>
<line x1="599.95" y1="573.4694" x2="616.95" y2="573.4694" stroke="#c1272d" stroke-width="2.2"/>
<line x1="599.95" y1="615.3506" x2="616.95" y2="615.3506" stroke="#c1272d" stroke-width="2.2"/>
<rect x="599.85" y="585.81" width="17.2" height="17.2" fill="#ff0000"/>
<line x1="969.125" y1="496.2765999999999" x2="969.125" y2="526.661" stroke="#c1272d" stroke-width="2.2"/>
<line x1="960.625" y1="496.2765999999999" x2="977.625" y2="496.2765999999999" stroke="#c1272d" stroke-width="2.2"/>
<line x1="960.625" y1="526.661" x2="977.625" y2="526.661" stroke="#c1272d" stroke-width="2.2"/>
<rect x="960.525" y="502.8687999999999" width="17.2" height="17.2" fill="#ff0000"/>
</g>
<rect x="367.9" y="450.8" width="681.7" height="410.5" fill="none" stroke="#000" stroke-width="5"/>
<line x1="528.3" y1="861" x2="528.3" y2="853.5" stroke="#000" stroke-width="5" stroke-linecap="round"/>
<line x1="688.6" y1="861" x2="688.6" y2="853.5" stroke="#000" stroke-width="5" stroke-linecap="round"/>
<line x1="848.9000000000001" y1="861" x2="848.9000000000001" y2="853.5" stroke="#000" stroke-width="5" stroke-linecap="round"/>
<line x1="1009.2" y1="861" x2="1009.2" y2="853.5" stroke="#000" stroke-width="5" stroke-linecap="round"/>
<line x1="368" y1="553.3" x2="378.5" y2="553.3" stroke="#000" stroke-width="5" stroke-linecap="round"/>
<line x1="368" y1="656.1" x2="378.5" y2="656.1" stroke="#000" stroke-width="5" stroke-linecap="round"/>
<line x1="368" y1="758.6" x2="378.5" y2="758.6" stroke="#000" stroke-width="5" stroke-linecap="round"/>
<rect x="715.2" y="697.5" width="340" height="170" fill="#fff" stroke="#000" stroke-width="3.8"/>
<rect x="1049.6" y="690" width="10" height="180" fill="#fff"/>
<line x1="1049.6" y1="450" x2="1049.6" y2="863.8" stroke="#000" stroke-width="5"/>
<rect x="700" y="863.8" width="360" height="8" fill="#fff"/>
<line x1="365.4" y1="861.3" x2="1052.1" y2="861.3" stroke="#000" stroke-width="5"/>
<line x1="848.9000000000001" y1="861" x2="848.9000000000001" y2="853.5" stroke="#000" stroke-width="5" stroke-linecap="round"/>
<line x1="1009.2" y1="861" x2="1009.2" y2="853.5" stroke="#000" stroke-width="5" stroke-linecap="round"/>
<rect x="727.9" y="712.1" width="21.9" height="21.9" fill="#e8202a"/>
<text x="763.3" y="733.8" font-size="33.2" font-weight="normal" text-anchor="start" >RNA:Dicer = 1:10</text>
<rect x="727.9" y="765.7" width="21.9" height="21.9" fill="#f7941d"/>
<text x="763.3" y="787.4" font-size="33.2" font-weight="normal" text-anchor="start" >RNA:Dicer = 1:25</text>
<rect x="727.9" y="819.3000000000001" width="21.9" height="21.9" fill="#29abe2"/>
<text x="763.3" y="841.0" font-size="33.2" font-weight="normal" text-anchor="start" >RNA:Dicer = 1:250</text>
<text x="356.5" y="462.8" font-size="35.5" font-weight="normal" text-anchor="end" >100</text>
<text x="356.6" y="564.2" font-size="35.5" font-weight="normal" text-anchor="end" >75</text>
<text x="356" y="665.6" font-size="35.5" font-weight="normal" text-anchor="end" >50</text>
<text x="355.8" y="767" font-size="35.5" font-weight="normal" text-anchor="end" >25</text>
<text x="356" y="867.3" font-size="35.5" font-weight="normal" text-anchor="end" >0</text>
<text x="368.8" y="898" font-size="35.5" font-weight="normal" text-anchor="middle" >0</text>
<text x="528.8" y="898" font-size="35.5" font-weight="normal" text-anchor="middle" >20</text>
<text x="689" y="898" font-size="35.5" font-weight="normal" text-anchor="middle" >40</text>
<text x="849.3" y="898" font-size="35.5" font-weight="normal" text-anchor="middle" >60</text>
<text x="1010" y="898" font-size="35.5" font-weight="normal" text-anchor="middle" >80</text>
<text x="587.5" y="936.8" font-size="35.5" font-weight="normal" text-anchor="start" >Time (minutes)</text>
<text x="0" y="0" font-size="35.5" transform="translate(289.5 780.2) rotate(-90)">Processing (%)</text>
<text x="382.3" y="489.1" font-size="34.2" font-weight="normal" text-anchor="start" >pre-miR-21</text>
<text x="556" y="476.6" font-size="18.5" font-weight="normal" text-anchor="start" >WT</text>
</svg>
</body></html>
